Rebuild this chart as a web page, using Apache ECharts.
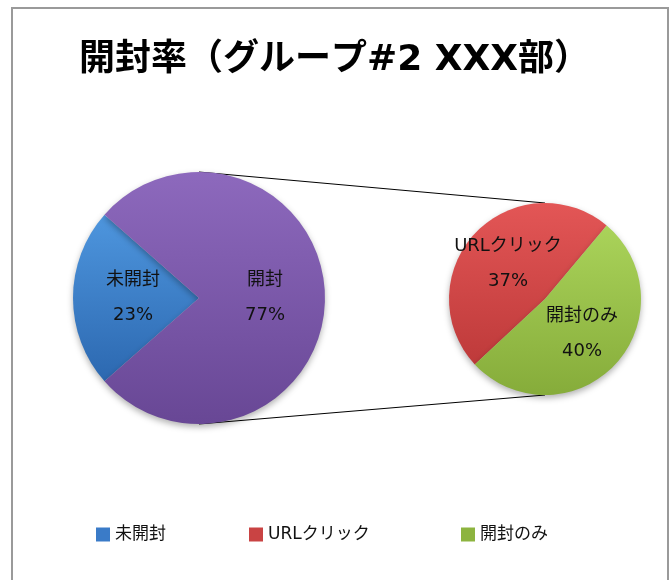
<!DOCTYPE html>
<html><head><meta charset="utf-8">
<script src="https://cdn.jsdelivr.net/npm/echarts@6/dist/echarts.min.js"></script>
<style>html,body{margin:0;padding:0;background:#fff}#c{width:669px;height:580px}</style>
</head><body><div id="c"></div>
<script>
const titleText = '開封率（グループ#2 XXX部）';
const mainCategories = ['未開封', '開封'];
const mainValues = [23, 77];
const subCategories = ['URLクリック', '開封のみ'];
const subValues = [37, 40];
const legendNames = ['未開封', 'URLクリック', '開封のみ'];

const FONT = '"DejaVu Sans", "Noto Sans CJK JP", sans-serif';
const L = {cx: 199, cy: 298, r: 126};
const R = {cx: 545, cy: 299, r: 96};

function grad(top, bottom) {
  return new echarts.graphic.LinearGradient(0, 0, 0, 1, [
    {offset: 0, color: top}, {offset: 1, color: bottom}
  ]);
}
const colors = {
  '未開封': grad('#4E96DE', '#2C68B0'),
  '開封': grad('#8D69BD', '#684795'),
  'URLクリック': grad('#E35656', '#BE3A3A'),
  '開封のみ': grad('#AAD35A', '#86AC3A')
};
const legendIconColors = {'未開封': '#3A7BC8', 'URLクリック': '#C94343', '開封のみ': '#8DB43F'};

const mainStart = 180 + mainValues[0] / 100 * 360 / 2;
const subStart = 223;

const labelCfg = {
  show: true, position: 'inside', formatter: '{b}\n{c}%',
  fontFamily: FONT, fontSize: 18, color: '#111', lineHeight: 35
};
const shadow = {shadowBlur: 6, shadowColor: 'rgba(0,0,0,0.3)', shadowOffsetY: 3};

const chart = echarts.init(document.getElementById('c'));
const legends = legendNames.map((n, i) => ({
  data: [{name: n, itemStyle: {color: legendIconColors[n]}}],
  left: [91, 244, 456][i], top: 521,
  icon: 'rect', itemWidth: 14, itemHeight: 14, itemGap: 5,
  textStyle: {fontFamily: FONT, fontSize: 17, color: '#111'},
  selectedMode: false
}));
chart.setOption({
  animation: false,
  title: {text: titleText, left: 'center', top: 38,
    textStyle: {fontFamily: FONT, fontSize: 36, fontWeight: 'bold', color: '#000'}},
  legend: legends,
  graphic: [
    {type: 'rect', shape: {x: 12, y: 8, width: 656, height: 590}, style: {fill: 'none', stroke: '#9a9a9a', lineWidth: 2}, z: -10},
    {type: 'line', shape: {x1: L.cx, y1: L.cy - L.r, x2: R.cx, y2: R.cy - R.r}, style: {stroke: '#000', lineWidth: 1}, z: -5},
    {type: 'line', shape: {x1: L.cx, y1: L.cy + L.r, x2: R.cx, y2: R.cy + R.r}, style: {stroke: '#000', lineWidth: 1}, z: -5}
  ],
  series: [
    {type: 'pie', center: [L.cx, L.cy], radius: L.r, startAngle: mainStart, clockwise: true,
      label: labelCfg, labelLine: {show: false}, emphasis: {disabled: true},
      itemStyle: Object.assign({borderWidth: 0}, shadow),
      data: mainCategories.map((n, i) => ({name: n, value: mainValues[i], itemStyle: {color: colors[n]}}))},
    {type: 'pie', center: [R.cx, R.cy], radius: R.r, startAngle: subStart, clockwise: true,
      label: labelCfg, labelLine: {show: false}, emphasis: {disabled: true},
      itemStyle: Object.assign({borderWidth: 0}, shadow),
      data: subCategories.map((n, i) => ({name: n, value: subValues[i], itemStyle: {color: colors[n]}}))}
  ]
});
</script></body></html>
